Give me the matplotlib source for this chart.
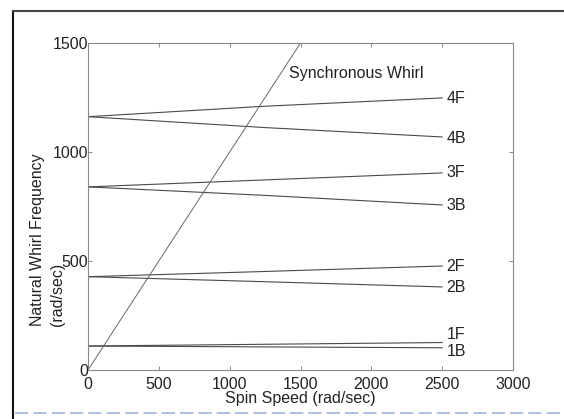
""" Campbell diagram: natural whirl frequency vs spin speed """

import matplotlib
matplotlib.use('Agg')
from matplotlib import pyplot as plt
from matplotlib.lines import Line2D

# spin speed (rad/sec) where each mode line is sampled
speed = [0, 1250, 2500]

modes = ['4F', '4B', '3F', '3B', '2F', '2B', '1F', '1B']
freqs = {
    '4F': [1162, 1210, 1248],
    '4B': [1162, 1112, 1069],
    '3F': [840, 872, 904],
    '3B': [840, 801, 757],
    '2F': [428, 452, 477],
    '2B': [428, 405, 381],
    '1F': [110, 118, 126],
    '1B': [110, 106, 102],
}
label_freq = [1245, 1063, 904, 754, 477, 378, 161, 87]

sync_speed = [0, 1500]
sync_freq = [0, 1500]

xticks = [0, 500, 1000, 1500, 2000, 2500, 3000]
yticks = [0, 500, 1000, 1500]

plt.rcParams['font.family'] = ['Liberation Sans', 'DejaVu Sans']
fs = 11.5
txt_col = '#222222'

fig = plt.figure(figsize=(5.64, 4.19), dpi=100)
ax = fig.add_axes([88 / 564, 49 / 419, 425 / 564, 327 / 419])

line_col = '#4a4a4a'
for m in modes:
    ax.plot(speed, freqs[m], color=line_col, lw=0.8)
for m, yl in zip(modes, label_freq):
    ax.text(2530, yl, m, fontsize=fs, color=txt_col, va='center', ha='left')

ax.plot(sync_speed, sync_freq, color='#666666', lw=0.7)
ax.text(1420, 1362, 'Synchronous Whirl', fontsize=fs, color=txt_col,
        va='center', ha='left')

ax.set_xlim(0, 3000)
ax.set_ylim(0, 1500)
ax.set_xticks(xticks)
ax.set_yticks(yticks)
ax.tick_params(direction='in', length=3, width=0.6, color='#777777',
               top=True, right=True, labelsize=fs, labelcolor=txt_col)
ax.tick_params(axis='y', pad=0)
ax.tick_params(axis='x', pad=5)
for sp in ax.spines.values():
    sp.set_color('#888888')
    sp.set_linewidth(0.8)

ax.set_xlabel('Spin Speed (rad/sec)', fontsize=fs, color=txt_col, labelpad=-1)
fig.text(38 / 564, 1 - 326 / 419, 'Natural Whirl Frequency', rotation=90,
         ha='center', va='bottom', fontsize=fs, color=txt_col)
fig.text(57 / 564, 1 - 326 / 419, '(rad/sec)', rotation=90,
         ha='center', va='bottom', fontsize=fs, color=txt_col)

# outer frame of the scanned figure
fig.add_artist(Line2D([13 / 564, 13 / 564], [0.0, 1 - 11 / 419],
                      transform=fig.transFigure, color='#111111', lw=1.5))
fig.add_artist(Line2D([13 / 564, 1.0], [1 - 11 / 419, 1 - 11 / 419],
                      transform=fig.transFigure, color='#444444', lw=1.5))
fig.add_artist(Line2D([15 / 564, 1.0], [1 - 413 / 419, 1 - 413 / 419],
                      transform=fig.transFigure, color='#9fb4e0', lw=1.2,
                      ls=(0, (8, 3))))

fig.savefig('out.png', dpi=100)
